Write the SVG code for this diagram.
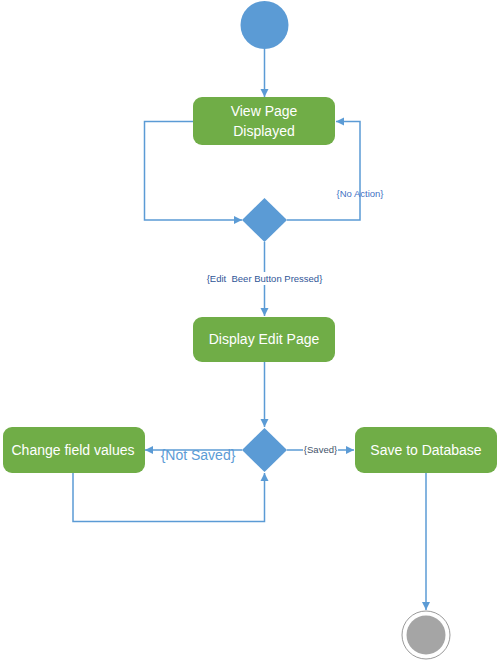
<svg xmlns="http://www.w3.org/2000/svg" width="499" height="661" viewBox="0 0 499 661">
<style>
.act{fill:#70AD47;}
.at{fill:#fff;font-family:"Liberation Sans",Arial,sans-serif;font-size:14px;text-anchor:middle;}
.dec{fill:#5B9BD5;}
.ln{fill:none;stroke:#5B9BD5;stroke-width:1.5;}
.lb{font-family:"Liberation Sans",Arial,sans-serif;font-size:9.5px;}
</style>
<defs>
<marker id="ah" markerWidth="10" markerHeight="10" refX="8" refY="5" orient="auto" markerUnits="userSpaceOnUse">
<path d="M0,1 L8,5 L0,9 Z" fill="#5B9BD5"/>
</marker>
</defs>
<rect width="499" height="661" fill="#fff"/>
<g id="connectors">
<path class="ln" d="M264.5,49 V97" marker-end="url(#ah)"/>
<path class="ln" d="M193,121.5 H144.5 V220 H242" marker-end="url(#ah)"/>
<path class="ln" d="M287,220 H360 V121.5 H336" marker-end="url(#ah)"/>
<path class="ln" d="M264.5,242 V316" marker-end="url(#ah)"/>
<path class="ln" d="M264.5,362 V427" marker-end="url(#ah)"/>
<path class="ln" d="M242,450 H145" marker-end="url(#ah)"/>
<path class="ln" d="M73,473 V521.5 H264.5 V473" marker-end="url(#ah)"/>
<path class="ln" d="M287,450 H354" marker-end="url(#ah)"/>
<path class="ln" d="M426,473 V610" marker-end="url(#ah)"/>
<text class="lb" x="360" y="197" text-anchor="middle" fill="#4472C4">{No Action}</text>
<rect x="203" y="272" width="123" height="13" fill="#fff"/>
<text class="lb" x="264.5" y="282" text-anchor="middle" fill="#2F5597">{Edit&#160; Beer Button Pressed}</text>
<text x="198" y="460" text-anchor="middle" fill="#5B9BD5" font-family="Liberation Sans, Arial, sans-serif" font-size="14px">{Not Saved}</text>
<rect x="303" y="444" width="35" height="12" fill="#fff"/>
<text class="lb" x="320.5" y="453" text-anchor="middle" fill="#44546A">{Saved}</text>
</g>
<g id="start"><circle cx="264.5" cy="25" r="24" fill="#5B9BD5"/></g>
<g id="view-page">
<rect class="act" x="193" y="97" width="142" height="48" rx="9"/>
<text class="at" x="264" y="116">View Page</text>
<text class="at" x="264" y="136">Displayed</text>
</g>
<g id="decision1"><path class="dec" d="M264.5,198 L287,220 L264.5,242 L242,220 Z"/></g>
<g id="display-edit">
<rect class="act" x="193" y="317" width="142" height="45" rx="9"/>
<text class="at" x="264" y="344">Display Edit Page</text>
</g>
<g id="decision2"><path class="dec" d="M264.5,428 L287,450 L264.5,472 L242,450 Z"/></g>
<g id="change-fields">
<rect class="act" x="3" y="427" width="142" height="46" rx="9"/>
<text class="at" x="73" y="455">Change field values</text>
</g>
<g id="save-db">
<rect class="act" x="355" y="427" width="142" height="46" rx="9"/>
<text class="at" x="426" y="455">Save to Database</text>
</g>
<g id="end">
<circle cx="426" cy="635" r="24" fill="#fff" stroke="#808080" stroke-width="0.8"/>
<circle cx="426" cy="635" r="19.5" fill="#A5A5A5"/>
</g>
</svg>
